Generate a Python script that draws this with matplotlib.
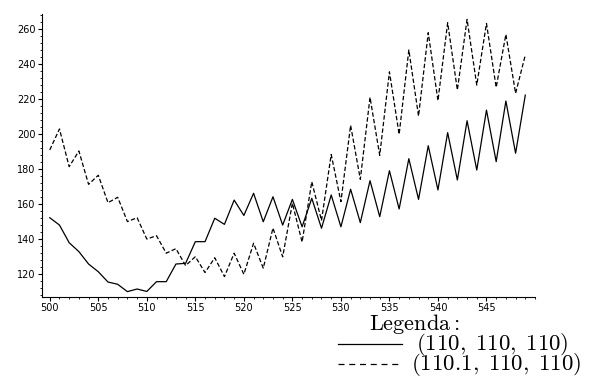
import matplotlib
matplotlib.use("Agg")
import matplotlib.pyplot as plt
from matplotlib.lines import Line2D
from matplotlib.ticker import MultipleLocator, FixedLocator

plt.rcParams['mathtext.fontset'] = 'cm'

x = list(range(500, 550))
solid = [152.2, 148, 137.9, 132.8, 125.7, 121.3, 115.4, 114.1, 109.9, 111.4,
         110, 115.6, 115.6, 125.7, 126.1, 138.5, 138.5, 151.9, 148.4, 162.3,
         153.5, 166.2, 149.9, 164.2, 148, 162.7, 147, 163.3, 146.2, 165.2,
         147, 168.5, 149.4, 173.4, 152.8, 179.1, 157.2, 186.0, 162.7, 193.4,
         168.1, 200.9, 173.8, 207.7, 179.5, 213.8, 184.3, 219, 189.1, 222.4]
dashed = [191, 203, 181.4, 190.4, 171.3, 176.5, 160.8, 163.9, 150, 152.2,
          140, 141.9, 131.9, 134.5, 124.8, 129.9, 120.8, 129.3, 118.5, 131.9,
          119.8, 137.6, 123.3, 146.3, 129.8, 160.5, 138.3, 172.8, 150.6, 188.4,
          161.4, 205.1, 174.2, 221.1, 187.9, 235.7, 199.9, 248.2, 210.4, 258.1,
          219.2, 263.8, 225.3, 265.7, 228.1, 263.4, 226.8, 257.1, 223.4, 245.3]
xticks = [500, 505, 510, 515, 520, 525, 530, 535, 540, 545]
labels = [r'$(110,\;110,\;110)$', r'$(110.1,\;110,\;110)$']

W, H = 602, 392
fig = plt.figure(figsize=(W / 100, H / 100), dpi=100)
ax = fig.add_axes([42 / W, (H - 296.7) / H, (535 - 42) / W, (296.7 - 14) / H])

ax.plot(x, solid, color='black', lw=0.9, linestyle='-')
ax.plot(x, dashed, color='black', lw=0.9, linestyle=(0, (3.5, 1.8)))

ax.set_xlim(499.2, 550)
ax.set_ylim(107, 268.8)
for s in ['top', 'right']:
    ax.spines[s].set_visible(False)
for s in ['left', 'bottom']:
    ax.spines[s].set_linewidth(0.8)

ax.xaxis.set_major_locator(FixedLocator(xticks))
ax.xaxis.set_minor_locator(MultipleLocator(1))
ax.yaxis.set_major_locator(MultipleLocator(20))
ax.yaxis.set_minor_locator(MultipleLocator(4))
ax.tick_params(axis='both', which='major', length=3, width=0.8, labelsize=7, pad=1.5)
ax.tick_params(axis='both', which='minor', length=1.5, width=0.6)

# Legend drawn in figure coordinates
fig.text(414 / W, 1 - 324 / H, r'$\mathrm{Legenda:}$', ha='center', va='center', fontsize=16)
ys = [344, 364]
xs_text = [416, 411]
styles = ['-', (0, (4.8, 3.8))]
for yy, xt, st, lab in zip(ys, xs_text, styles, labels):
    fig.add_artist(Line2D([338 / W, 402 / W], [1 - yy / H, 1 - yy / H],
                          color='black', lw=0.9, linestyle=st, transform=fig.transFigure))
    fig.text(xt / W, 1 - yy / H, lab, ha='left', va='center', fontsize=16.5)

fig.savefig('out.png', dpi=100)
